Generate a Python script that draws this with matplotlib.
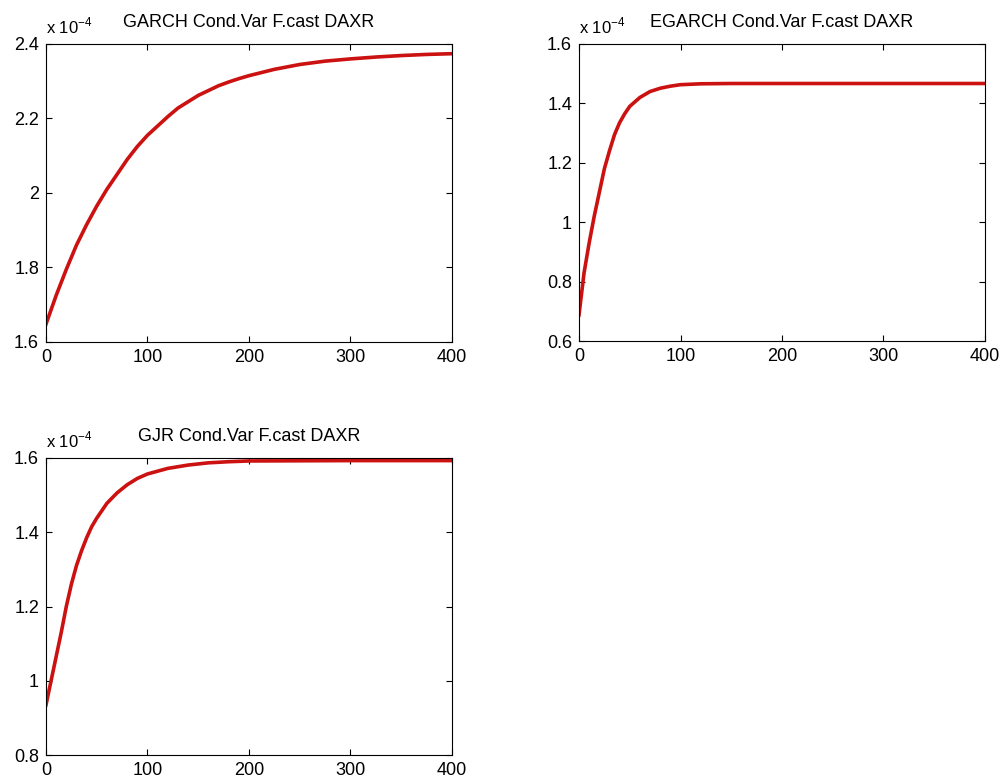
import matplotlib
matplotlib.use("Agg")
import matplotlib.pyplot as plt
from matplotlib.ticker import FuncFormatter

plt.rcParams['font.family'] = ['Liberation Sans', 'DejaVu Sans']
plt.rcParams['mathtext.fontset'] = 'custom'
plt.rcParams['mathtext.rm'] = 'Liberation Sans'

# forecast horizon (steps) and conditional variance, in units of 1e-4
garch_x = [0, 10, 20, 30, 40, 50, 60, 70, 80, 90, 100, 110, 120, 130, 140, 150,
           160, 170, 180, 190, 200, 225, 250, 275, 300, 325, 350, 375, 400]
garch_v = [1.648, 1.725, 1.795, 1.86, 1.915, 1.965, 2.01, 2.05, 2.09, 2.125, 2.155,
           2.18, 2.205, 2.228, 2.245, 2.262, 2.275, 2.288, 2.298, 2.307, 2.315,
           2.332, 2.345, 2.354, 2.36, 2.365, 2.369, 2.372, 2.374]

egarch_x = [0, 5, 10, 15, 20, 25, 30, 35, 40, 45, 50, 60, 70, 80, 90, 100, 120, 150,
            200, 300, 400]
egarch_v = [0.688, 0.83, 0.93, 1.02, 1.1, 1.18, 1.24, 1.295, 1.335, 1.365, 1.39, 1.42,
            1.44, 1.451, 1.458, 1.463, 1.466, 1.467, 1.467, 1.467, 1.467]

gjr_x = [0, 5, 10, 15, 20, 25, 30, 35, 40, 45, 50, 60, 70, 80, 90, 100, 120, 140,
         160, 180, 200, 300, 400]
gjr_v = [0.935, 1.0, 1.065, 1.13, 1.2, 1.26, 1.31, 1.35, 1.385, 1.415, 1.438, 1.478,
         1.506, 1.528, 1.545, 1.557, 1.572, 1.581, 1.587, 1.59, 1.592, 1.593, 1.593]

titles = ["GARCH Cond.Var F.cast DAXR", "EGARCH Cond.Var F.cast DAXR", "GJR Cond.Var F.cast DAXR"]
xticks = [0, 100, 200, 300, 400]

fig = plt.figure(figsize=(10.03, 7.81), dpi=100)
W, H = 1003, 781

def make_ax(left, top, right, bottom):
    return fig.add_axes([left / W, 1 - bottom / H, (right - left) / W, (bottom - top) / H])

panels = [
    (make_ax(46, 44, 452, 342), garch_x, garch_v, (1.6, 2.4), [1.6, 1.8, 2.0, 2.2, 2.4], titles[0]),
    (make_ax(579, 44, 985, 341), egarch_x, egarch_v, (0.6, 1.6), [0.6, 0.8, 1.0, 1.2, 1.4, 1.6], titles[1]),
    (make_ax(46, 458, 452, 755), gjr_x, gjr_v, (0.8, 1.6), [0.8, 1.0, 1.2, 1.4, 1.6], titles[2]),
]

fmt = FuncFormatter(lambda v, p: "%g" % round(v, 3))

for ax, x, v, ylim, yticks, title in panels:
    ax.plot(x, v, color="#cc1111", linewidth=2.6)
    ax.set_xlim(0, 400)
    ax.set_ylim(*ylim)
    ax.set_xticks(xticks)
    ax.set_yticks(yticks)
    ax.yaxis.set_major_formatter(fmt)
    ax.tick_params(direction="in", length=4, width=0.8, top=True, right=True,
                   labelsize=13)
    ax.tick_params(axis="x", pad=5)
    ax.tick_params(axis="y", pad=5)
    for s in ax.spines.values():
        s.set_linewidth(0.8)
    ax.set_title(title, fontsize=13, pad=12)
    ax.text(0.0, 1.025, r"x 10$^{\mathregular{-4}}$", transform=ax.transAxes,
            fontsize=12, ha="left", va="bottom")

fig.savefig("out.png", dpi=100)
